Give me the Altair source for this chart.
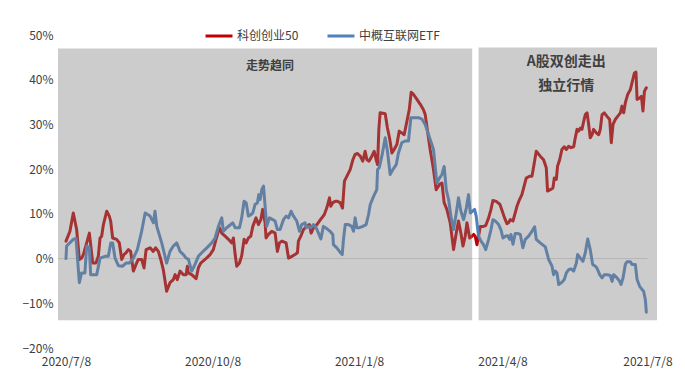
import altair as alt
import pandas as pd

START = pd.Timestamp("2020-07-08")

series_names = ["科创创业50", "中概互联网ETF"]
series_colors = ["#C00000", "#4F81BD"]

# days after 2020-07-08, cumulative return in %
red_day = [0, 2.5, 4.6, 6.7, 8.4, 9.8, 10.9, 13.0, 14.7, 16.8, 18.8, 20.3, 21.4, 22.4, 23.5, 25.6,
           27.2, 28.1, 29.3, 31.8, 33.5, 35.0, 36.4, 37.7, 39.2, 40.6, 42.3, 44.0, 45.4, 47.5, 49.0,
           50.3, 52.8, 54.8, 56.3, 58.0, 59.5, 61.1, 63.2, 65.3, 67.4, 68.5, 69.9, 71.6, 73.7, 75.4,
           76.2, 76.8, 78.9, 81.7, 83.1, 84.6, 87.3, 90.5, 92.5, 94.2, 96.3, 97.8, 99.9, 102.0, 104.1,
           105.1, 106.2, 107.2, 108.9, 110.3, 111.8, 113.1, 114.5, 116.0, 117.3, 119.3, 120.8, 122.3,
           123.5, 125.0, 125.6, 127.1, 129.2, 131.3, 132.7, 134.0, 135.5, 138.2, 139.7, 141.8, 143.8,
           145.3, 145.9, 147.4, 149.1, 151.2, 152.8, 153.9, 155.4, 157.5, 159.1, 160.6, 162.1, 163.7,
           165.4, 166.2, 167.5, 169.0, 170.4, 172.1, 173.6, 174.8, 176.3, 178.4, 180.1, 181.5, 183.0,
           184.7, 186.3, 187.8, 188.9, 190.3, 192.0, 193.5, 194.7, 195.6, 196.4, 197.2, 200.4, 201.8,
           203.1, 204.6, 206.0, 207.7, 209.2, 210.8, 212.3, 214.0, 215.5, 216.7, 218.2, 220.3, 222.4,
           224.4, 225.5, 228.6, 230.7, 232.4, 234.5, 236.0, 237.4, 239.1, 241.2, 243.3, 245.0, 246.4,
           247.9, 249.2, 250.6, 251.7, 253.4, 254.8, 255.9, 256.9, 258.0, 260.1, 262.1, 263.5, 265.3,
           266.8, 268.0, 270.1, 272.4, 273.9, 275.3, 276.8, 277.8, 278.9, 280.6, 282.0, 283.1, 284.7,
           286.2, 287.3, 288.9, 291.0, 292.5, 293.6, 295.2, 297.7, 299.8, 301.5, 302.3, 304.0, 305.7,
           306.5, 307.8, 308.6, 309.9, 311.3, 312.8, 314.1, 315.5, 317.0, 318.7, 319.7, 320.8, 321.8,
           322.9, 323.9, 325.0, 326.0, 327.1, 328.1, 329.1, 330.2, 331.2, 332.9, 334.4, 335.4, 336.5,
           337.9, 339.6, 341.3, 342.3, 343.4, 344.8, 346.3, 348.0, 349.0, 350.1, 351.1, 352.6, 354.3,
           355.3, 356.8, 357.8, 358.5, 360.1, 361.2, 362.2, 363.1, 364.3]
red_val = [3.9, 6.1, 10.2, 6.5, -0.2, 0.1, 0.9, 3.5, 5.7, -1.0, -1.0, 0.5, 4.6, 5.0, 7.6, 10.6,
           9.5, 8.3, 4.6, 4.3, 3.5, -0.2, 0.9, 1.3, 2.0, 1.6, -2.8, -1.3, -0.2, -0.2, -2.1,
           2.0, 2.4, 1.6, 2.4, 1.6, -0.2, -2.5, -7.3, -5.4, -4.7, -3.6, -4.7, -2.8, -3.6, -3.6,
           -1.7, -3.2, -3.6, -4.5, -2.1, -1.0, -0.2, 0.9, 2.0, 4.3, 6.9, 5.7, 5.0, 4.3, 3.5,
           4.6, 0.9, -1.7, -1.0, 0.6, 4.3, 3.5, 4.6, 5.0, 7.2, 9.1, 7.6, 8.7,
           11.0, 8.0, 4.6, 5.4, 6.1, 5.7, 1.6, 3.5, 3.9, 3.5, 0.1, 0.5, 0.9,
           1.3, 3.9, 5.0, 6.5, 7.2, 7.6, 5.7, 6.9, 7.6, 8.4, 9.1, 9.8, 11.3,
           13.6, 11.7, 12.5, 12.8, 12.8, 12.5, 11.3, 17.3, 18.4, 19.9, 22.1, 23.3, 23.5,
           22.9, 21.8, 24.0, 22.1, 21.8, 22.9, 24.0, 22.1, 21.0, 28.9, 32.6, 32.4, 29.2,
           27.0, 23.6, 24.4, 25.5, 28.5, 28.1, 27.7, 30.7, 33.3, 37.2, 36.7, 35.6, 34.5,
           33.3, 32.2, 24.4, 19.9, 15.4, 16.6, 16.9, 12.5, 11.0, 8.0, 2.0, 5.7, 8.4,
           5.7, 2.8, 5.0, 8.0, 4.6, 5.0, 5.4, 5.0, 3.1, 7.2, 7.2, 7.4, 9.1,
           11.0, 13.0, 12.8, 12.1, 10.6, 9.1, 7.8, 8.0, 8.7, 8.4, 10.2, 11.7, 13.2,
           14.3, 15.8, 18.0, 18.4, 18.4, 20.6, 24.0, 22.9, 22.1, 20.3, 15.1, 15.4, 15.8,
           18.0, 17.7, 20.7, 22.1, 24.4, 25.0, 24.4, 25.1, 24.8, 25.0, 27.0, 28.9, 28.5,
           29.2, 28.9, 30.7, 32.2, 32.6, 30.0, 27.0, 27.7, 28.9, 28.1, 27.7, 28.9, 32.2,
           32.6, 31.8, 31.1, 25.9, 30.0, 31.1, 31.8, 32.6, 34.1, 32.6, 34.8, 36.7, 37.8,
           39.3, 41.5, 41.7, 35.6, 35.9, 36.3, 33.0, 37.4, 38.2]

blue_day = [0, 0.4, 4.6, 6.3, 8.4, 9.8, 11.9, 13.0, 14.7, 15.5, 19.3, 21.4, 24.5, 26.6, 28.1, 29.3,
            30.8, 32.9, 35.6, 37.7, 39.8, 42.3, 44.8, 47.5, 49.7, 52.8, 54.9, 55.9, 57.0, 60.1, 63.2,
            65.3, 67.4, 69.5, 71.6, 73.7, 75.4, 76.8, 78.9, 81.0, 83.1, 85.2, 88.4, 91.5, 93.6, 95.7,
            97.8, 98.8, 100.9, 102.6, 104.7, 106.2, 108.9, 110.3, 111.8, 113.1, 114.5, 116.0, 117.3,
            118.7, 120.2, 121.0, 121.9, 122.9, 124.0, 125.0, 126.0, 127.7, 129.8, 131.3, 132.7, 134.4,
            136.5, 138.2, 139.7, 141.3, 142.8, 144.9, 146.6, 148.0, 150.1, 150.8, 152.2, 153.7, 155.4,
            157.0, 158.5, 160.0, 161.6, 163.7, 165.8, 167.5, 167.9, 170.0, 171.7, 173.4, 174.2, 175.3,
            177.3, 179.4, 180.5, 181.5, 182.6, 184.2, 186.3, 188.4, 189.9, 191.0, 193.1, 195.1, 195.6,
            196.6, 198.3, 200.4, 201.8, 203.5, 205.2, 207.3, 208.7, 210.8, 212.9, 215.0, 216.5, 218.2,
            221.3, 223.4, 225.5, 230.7, 232.8, 234.5, 236.0, 237.4, 238.7, 240.2, 241.6, 243.3, 245.0,
            246.4, 247.9, 249.6, 251.3, 252.7, 253.8, 255.2, 256.5, 257.5, 259.0, 260.5, 262.1, 263.5,
            265.3, 266.8, 268.0, 269.5, 271.6, 273.0, 274.3, 275.8, 277.2, 278.5, 279.3, 280.6, 282.0,
            283.5, 285.2, 286.8, 288.3, 290.4, 292.5, 294.2, 295.2, 297.7, 300.9, 303.0, 305.1, 306.1,
            307.2, 308.2, 309.3, 311.3, 312.8, 314.1, 315.5, 317.0, 318.7, 320.4, 321.2, 322.9, 324.5,
            326.0, 327.5, 329.1, 330.6, 332.3, 333.3, 335.0, 336.5, 337.9, 339.6, 341.7, 342.8, 343.8,
            345.9, 347.6, 348.4, 349.7, 351.1, 352.2, 354.3, 355.3, 357.4, 358.5, 360.1, 361.6, 362.6,
            363.7, 364.3]
blue_val = [0.0, 2.8, 4.3, 4.5, -5.4, -3.2, -3.2, 2.8, 2.4, -3.6, -3.6, 0.1, 0.5, 0.5, 3.5, 3.5,
            0.1, -1.6, -1.7, -1.0, -1.0, 0.1, 2.0, 6.1, 10.2, 9.5, 8.0, 10.6, 7.2, 3.5, -1.0,
            1.6, 2.8, 3.5, 1.6, 0.9, 0.1, -0.1, -2.8, -1.3, 0.5, 1.3, 2.4, 3.5, 4.6, 7.2,
            9.1, 6.1, 6.9, 7.4, 8.0, 6.9, 6.9, 9.1, 12.8, 12.5, 9.5, 9.8, 10.2,
            12.1, 12.5, 14.3, 13.2, 15.4, 16.2, 11.7, 7.2, 9.1, 8.7, 8.4, 6.5, 6.5,
            8.7, 9.5, 9.1, 10.6, 9.5, 8.4, 6.1, 7.6, 8.0, 6.9, 7.2, 6.9, 7.6,
            6.9, 5.7, 4.4, 7.2, 6.7, 6.1, 5.4, 3.1, 2.4, 1.6, 0.9, 4.3, 7.6,
            7.6, 7.2, 6.1, 9.1, 6.9, 6.9, 7.2, 7.6, 9.8, 12.1, 13.9, 15.4, 19.9,
            20.3, 22.9, 27.0, 24.0, 18.8, 19.9, 21.0, 23.6, 25.9, 26.3, 26.3, 31.5, 31.5,
            31.5, 31.2, 30.0, 24.4, 16.9, 18.0, 18.8, 20.6, 15.4, 13.2, 9.5, 6.5, 10.2,
            13.6, 10.6, 8.7, 11.3, 14.3, 10.2, 10.6, 11.0, 9.5, 5.0, 3.9, 3.1, 2.0,
            4.3, 6.5, 8.7, 8.4, 7.6, 6.5, 4.6, 5.0, 5.1, 4.3, 5.4, 3.2, 5.6,
            5.6, 5.4, 2.4, 4.3, 5.0, 6.1, 7.1, 4.3, 3.5, 2.6, -0.2, -1.7, -3.6,
            -2.8, -3.2, -5.8, -5.3, -4.7, -3.2, -2.5, -2.3, -2.8, -1.0, 0.9, 0.1, -0.6,
            1.3, 4.4, 2.0, -1.3, -1.7, -2.1, -3.6, -4.3, -3.6, -3.6, -3.8, -5.1, -3.6,
            -4.3, -5.1, -5.8, -4.3, -1.3, -0.7, -0.7, -1.3, -1.3, -4.7, -6.2, -6.9, -7.3,
            -9.2, -12.0]

# shaded periods: start, end, bottom, top
band_start = ["2020-07-03", "2021-03-24"]
band_end = ["2021-03-20", "2021-07-14"]
band_low = [-0.138, -0.138]
band_high = [0.47, 0.472]

note_text = ["走势趋同", "A股双创走出", "独立行情"]
note_date = ["2020-11-13", "2021-05-18", "2021-05-18"]
note_value = [0.43, 0.439, 0.387]
note_size = [12, 14, 14]

x_ticks = ["2020-07-08", "2020-10-08", "2021-01-08", "2021-04-08", "2021-07-08"]
y_ticks = [-0.2, -0.1, 0.0, 0.1, 0.2, 0.3, 0.4, 0.5]

FONT = "Noto Sans CJK SC"
TXT = "#404040"


def frame(days, vals, name):
    return pd.DataFrame({
        "date": START + pd.to_timedelta(days, unit="D"),
        "value": [v / 100 for v in vals],
        "series": name,
    })


lines_df = pd.concat([frame(red_day, red_val, series_names[0]),
                      frame(blue_day, blue_val, series_names[1])], ignore_index=True)
bands_df = pd.DataFrame({"start": pd.to_datetime(band_start), "end": pd.to_datetime(band_end),
                         "low": band_low, "high": band_high})
notes_df = pd.DataFrame({"date": pd.to_datetime(note_date), "value": note_value,
                         "text": note_text, "size": note_size})
zero_df = pd.DataFrame({"start": [pd.Timestamp("2020-07-03")], "end": [pd.Timestamp("2021-07-08")], "value": [0.0]})

x_scale = alt.Scale(domain=[alt.DateTime(year=2020, month=7, date=3),
                            alt.DateTime(year=2021, month=7, date=14)])
y_scale = alt.Scale(domain=[-0.2, 0.5], nice=False, zero=False)

x_axis = alt.Axis(title=None, values=[alt.DateTime(year=int(d[:4]), month=int(d[5:7]), date=int(d[8:]))
                                      for d in x_ticks],
                  format="%Y/%-m/%-d", grid=False, ticks=False, domain=False, labelPadding=8,
                  labelFont=FONT, labelFontSize=12, labelColor=TXT, labelFlush=False)
y_axis = alt.Axis(title=None, values=y_ticks, format=".0%", grid=False, ticks=False, domain=False,
                  labelPadding=5, labelFont=FONT, labelFontSize=12, labelColor=TXT)

zero = alt.Chart(zero_df).mark_rule(color="#d9d9d9", strokeWidth=1).encode(
    x=alt.X("start:T", scale=x_scale, axis=x_axis),
    x2="end:T",
    y=alt.Y("value:Q", scale=y_scale, axis=y_axis),
)

lines = alt.Chart(lines_df).mark_line(strokeWidth=3, strokeJoin="round", strokeCap="round").encode(
    x=alt.X("date:T", scale=x_scale),
    y=alt.Y("value:Q", scale=y_scale),
    color=alt.Color("series:N", scale=alt.Scale(domain=series_names, range=series_colors),
                    sort=series_names,
                    legend=alt.Legend(title=None, orient="none", legendX=146, legendY=-14,
                                      direction="horizontal", symbolType="stroke", symbolSize=729,
                                      symbolStrokeWidth=3, labelFont=FONT, labelFontSize=12,
                                      labelColor=TXT, labelOffset=3, columnPadding=22, padding=0)),
    detail="series:N",
)

bands = alt.Chart(bands_df).mark_rect(color="#808080", opacity=0.4).encode(
    x=alt.X("start:T", scale=x_scale),
    x2="end:T",
    y=alt.Y("low:Q", scale=y_scale),
    y2="high:Q",
)

notes = alt.Chart(notes_df).mark_text(font=FONT, fontWeight="bold", color=TXT).encode(
    x=alt.X("date:T", scale=x_scale),
    y=alt.Y("value:Q", scale=y_scale),
    text="text:N",
    size=alt.Size("size:Q", scale=None, legend=None),
)

chart = alt.layer(zero, lines, bands, notes).properties(
    width=599, height=313,
    autosize=alt.AutoSizeParams(type="none"),
    padding={"left": 50, "top": 27, "right": 20, "bottom": 20},
    background="white",
).configure_view(stroke=None)

chart.save("out.html", embed_options={"renderer": "svg", "actions": False})
